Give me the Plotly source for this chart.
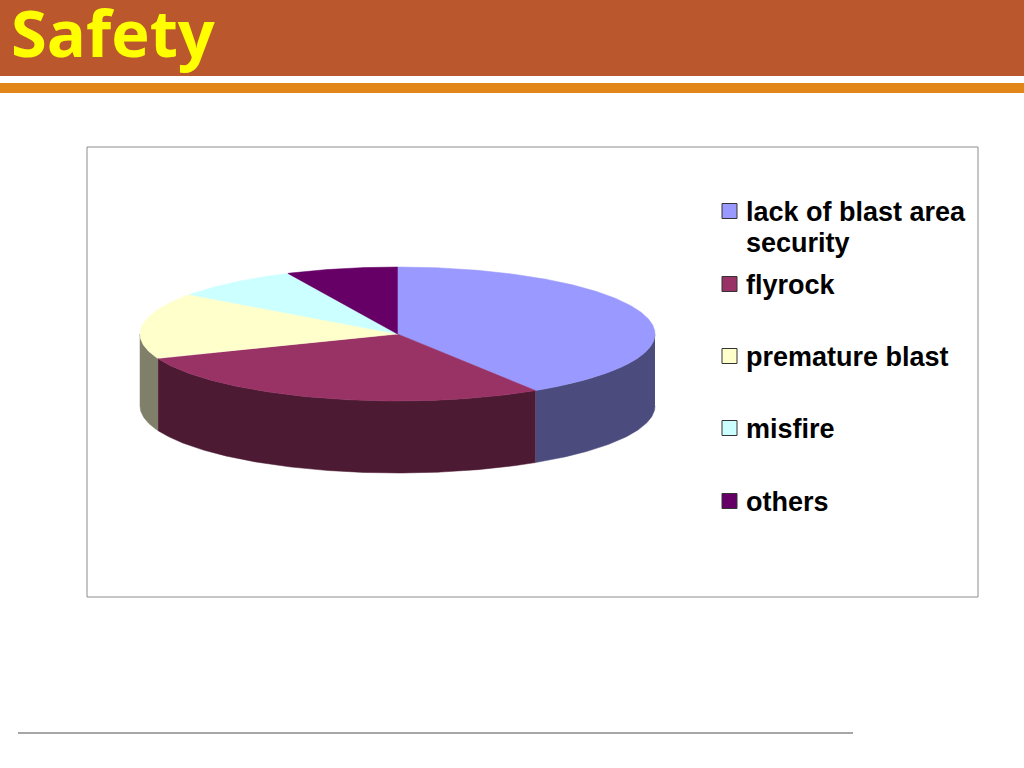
import numpy as np
import plotly.graph_objects as go

# causes of blasting accidents, share of total (%)
labels = ["lack of blast area<br>security", "flyrock", "premature blast", "misfire", "others"]
shares = [41, 28, 16, 8, 7]
top_colors = ["#9999FF", "#993366", "#FFFFCC", "#CCFFFF", "#660066"]
side_colors = ["#4B4B7D", "#4D1A33", "#80806A", "#7F8080", "#330033"]

# pie geometry, in page pixels (axes below map 1:1 onto the page)
cx, cy, rx, ry, depth = 397.5, 334, 257.5, 67, 72


def rim(a0, a1, drop=0.0):
    # angles clockwise from 12 o'clock, in degrees
    n = max(int(abs(a1 - a0)) * 2, 2)
    t = np.radians(np.linspace(a0, a1, n))
    return cx + rx * np.sin(t), cy - ry * np.cos(t) + drop


ends = np.cumsum(shares) / sum(shares) * 360
starts = np.concatenate([[0], ends[:-1]])

fig = go.Figure()

# side walls of the front half
for a, b, col in zip(starts, ends, side_colors):
    lo, hi = max(a, 90), min(b, 270)
    if lo >= hi:
        continue
    x1, y1 = rim(lo, hi)
    x2, y2 = rim(hi, lo, depth)
    fig.add_trace(
        go.Scatter(
            x=np.concatenate([x1, x2]),
            y=np.concatenate([y1, y2]),
            fill="toself",
            fillcolor=col,
            mode="lines",
            line=dict(color=col, width=0.5),
            hoverinfo="skip",
            showlegend=False,
        )
    )

# top faces
for a, b, col, lab, val in zip(starts, ends, top_colors, labels, shares):
    xs, ys = rim(a, b)
    fig.add_trace(
        go.Scatter(
            x=np.concatenate([[cx], xs, [cx]]),
            y=np.concatenate([[cy], ys, [cy]]),
            fill="toself",
            fillcolor=col,
            mode="lines",
            line=dict(color=col, width=0.5),
            name=lab.replace("<br>", " "),
            text=f"{val}%",
            hoverinfo="name+text",
            showlegend=False,
        )
    )

shapes = [
    # title band
    dict(type="rect", x0=0, x1=1024, y0=0, y1=76, fillcolor="#BA572D", line_width=0),
    dict(type="rect", x0=0, x1=1024, y0=83, y1=93, fillcolor="#E3861A", line_width=0),
    # chart frame
    dict(type="rect", x0=87, x1=978, y0=147, y1=597, line=dict(color="#8C8C8C", width=1)),
    # footer rule
    dict(type="line", x0=18, x1=853, y0=733, y1=733, line=dict(color="#A6A6A6", width=2)),
]

annotations = [
    dict(
        x=9, y=32, xanchor="left", yanchor="middle", text="Safety", showarrow=False,
        font=dict(family="Open Sans", size=65, color="#FFFF00", weight="bold"),
    )
]

# hand-made legend
legend_y = [211, 284, 356, 428, 501]
for lab, col, yy in zip(labels, top_colors, legend_y):
    shapes.append(
        dict(type="rect", x0=722, x1=737, y0=yy - 7.5, y1=yy + 7.5,
             fillcolor=col, line=dict(color="#333333", width=1), layer="above")
    )
    for k, part in enumerate(lab.split("<br>")):
        annotations.append(
            dict(
                x=744, y=yy + 1 + 31 * k, xanchor="left", yanchor="middle",
                text=part, showarrow=False,
                font=dict(family="Liberation Sans", size=27, color="#000000", weight="bold"),
            )
        )

for s in shapes:
    s.setdefault("layer", "below")
    s["xref"] = "x"
    s["yref"] = "y"
for an in annotations:
    an["xref"] = "x"
    an["yref"] = "y"

fig.update_layout(
    width=1024,
    height=768,
    margin=dict(l=0, r=0, t=0, b=0),
    paper_bgcolor="white",
    plot_bgcolor="white",
    shapes=shapes,
    annotations=annotations,
    xaxis=dict(range=[0, 1024], visible=False, fixedrange=True),
    yaxis=dict(range=[768, 0], visible=False, fixedrange=True),
    showlegend=False,
)

fig.write_html(
    "out.html",
    config={"displayModeBar": False},
    post_script="document.body.style.margin = '0';",
)
